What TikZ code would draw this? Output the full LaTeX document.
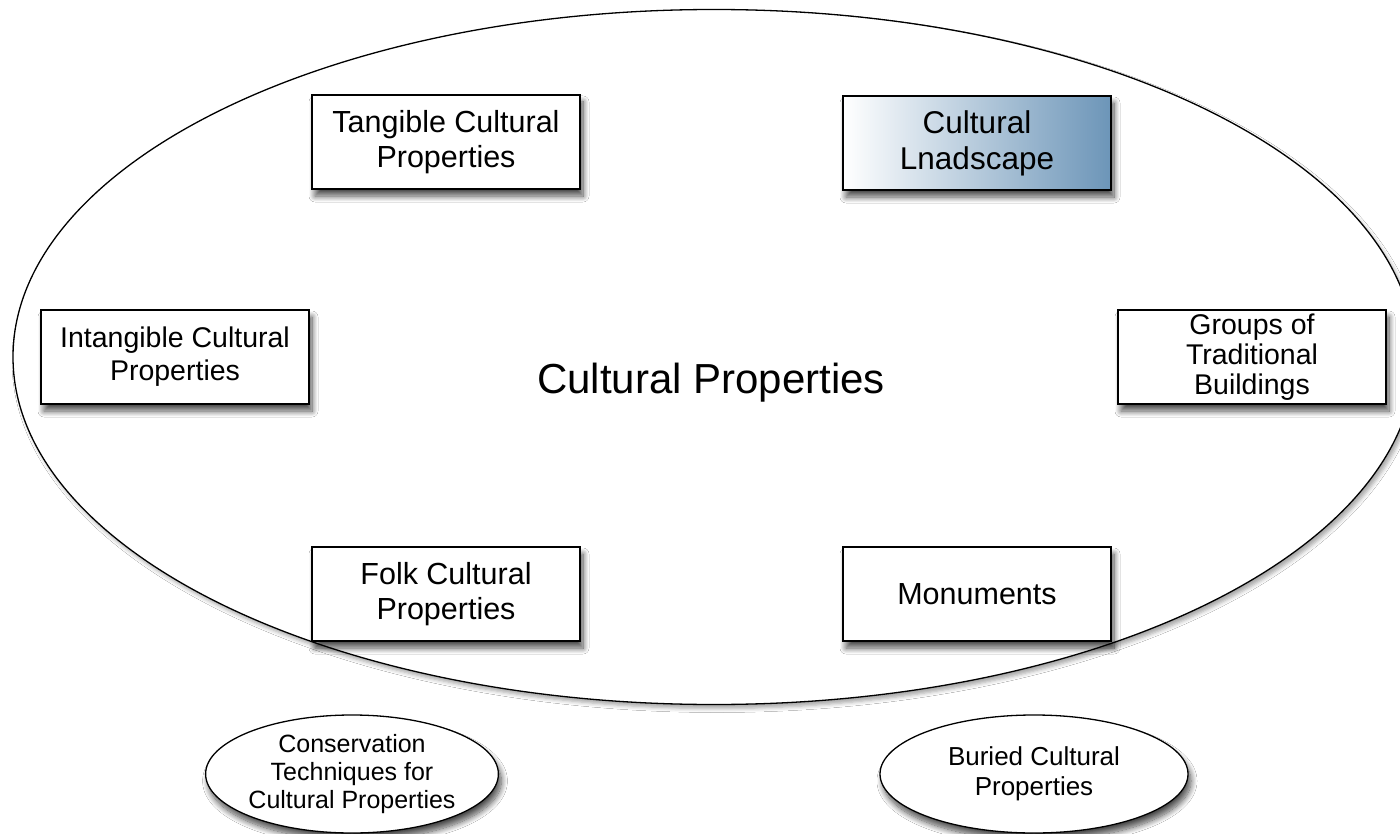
\documentclass[tikz,border=0pt]{standalone}
\usepackage{fontspec}
\setmainfont{Liberation Sans}
\usetikzlibrary{shapes.geometric,shadows.blur}
\definecolor{lnblue}{HTML}{6C95B8}
\tikzset{
  shd/.style={blur shadow={shadow xshift=3pt, shadow yshift=-7pt, shadow blur radius=6pt, shadow blur steps=12, shadow opacity=70}},
  prop/.style={draw=black, line width=1.3pt, fill=white, shd, minimum width=268pt, minimum height=94pt, inner sep=0pt, align=center, font=\fontsize{30.5}{35}\selectfont},
  oval/.style={ellipse, draw=black, line width=1.3pt, fill=white, shd, inner sep=0pt, align=center, font=\fontsize{25}{29}\selectfont},
}
\begin{document}
\begin{tikzpicture}[x=1pt,y=-1pt]
\useasboundingbox (0,0) rectangle (1400,834);
\fill[white] (0,0) rectangle (1400,834);
\node[ellipse, draw=black, line width=1.3pt, fill=white, blur shadow={shadow xshift=3pt, shadow yshift=-4pt, shadow blur radius=4pt, shadow opacity=35}, minimum width=1402pt, minimum height=695pt, inner sep=0pt] (cp) at (714,357) {};
\node[font=\fontsize{42}{47}\selectfont] (cptext) at (711,383) {Cultural Properties};
\node[prop] (tangible) at (446,142) {Tangible Cultural\\Properties};
\node[prop, left color=white, right color=lnblue, font=\fontsize{31.5}{36}\selectfont] (landscape) at (977,143) {Cultural\\Lnadscape};
\node[prop, font=\fontsize{28.5}{33}\selectfont] (intangible) at (175,357) {Intangible Cultural\\Properties};
\node[prop, font=\fontsize{28.5}{30}\selectfont] (groups) at (1252,357) {Groups of\\Traditional\\Buildings};
\node[prop] (folk) at (446,594) {Folk Cultural\\Properties};
\node[prop] (monuments) at (977,594) {Monuments};
\node[oval, minimum width=292pt, minimum height=118pt, font=\fontsize{25}{28}\selectfont] (conservation) at (352,774) {Conservation\\Techniques for\\Cultural Properties};
\node[oval, minimum width=308pt, minimum height=118pt, font=\fontsize{26}{30}\selectfont] (buried) at (1034,774) {Buried Cultural\\Properties};
\end{tikzpicture}
\end{document}
